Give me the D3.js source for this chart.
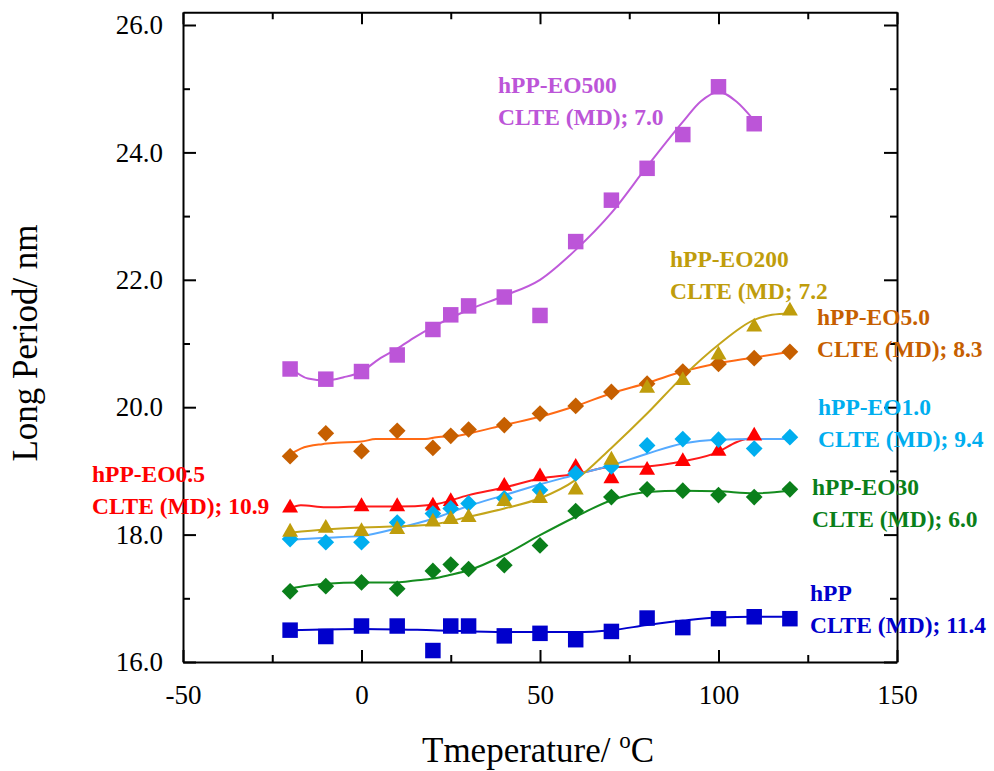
<!DOCTYPE html>
<html>
<head>
<meta charset="utf-8">
<script src="https://cdn.jsdelivr.net/npm/d3@7/dist/d3.min.js"></script>
<style>
  html, body { margin: 0; padding: 0; background: #fff; }
  svg { display: block; }
  text { font-family: "Liberation Serif", "Times New Roman", serif; }
</style>
</head>
<body>
<svg id="chart" width="994" height="771"></svg>
<script>
// ---------- data ----------
const xTicksMajor = [-50, 0, 50, 100, 150];
const xTicksMinor = [-25, 25, 75, 125];
const yTicksMajor = [16, 18, 20, 22, 24, 26];
const yTicksMinor = [17, 19, 21, 23, 25];

const tHPP = [-20, -10, 0, 10, 20, 25, 30, 40, 50, 60, 70, 80, 90, 100, 110, 120];
const vHPP = [16.50, 16.40, 16.565, 16.565, 16.18, 16.565, 16.565, 16.41, 16.45, 16.35, 16.48, 16.69, 16.54, 16.68, 16.71, 16.68];
const fitTHPP = [-20, 0, 20, 40, 60, 70, 80, 90, 100, 110, 120];
const fitVHPP = [16.50, 16.52, 16.50, 16.47, 16.47, 16.50, 16.58, 16.65, 16.70, 16.71, 16.71];

const tEO30 = [-20, -10, 0, 10, 20, 25, 30, 40, 50, 60, 70, 80, 90, 100, 110, 120];
const vEO30 = [17.11, 17.19, 17.25, 17.15, 17.43, 17.53, 17.46, 17.52, 17.83, 18.37, 18.59, 18.71, 18.69, 18.62, 18.59, 18.71];
const fitTEO30 = [-20, -15, -10, 0, 10, 15, 20, 25, 30, 40, 50, 60, 70, 80, 90, 100, 110, 120];
const fitVEO30 = [17.15, 17.20, 17.23, 17.25, 17.25, 17.28, 17.31, 17.37, 17.44, 17.68, 17.99, 18.28, 18.54, 18.67, 18.69, 18.68, 18.65, 18.69];

const tEO05 = [-20, 0, 10, 20, 25, 40, 50, 60, 70, 80, 90, 100, 110];
const vEO05 = [18.42, 18.44, 18.44, 18.45, 18.52, 18.76, 18.91, 19.06, 18.88, 19.01, 19.15, 19.31, 19.55];
const fitTEO05 = [-20, -17, -10, 0, 10, 20, 30, 40, 50, 60, 70, 80, 90, 100, 105, 110];
const fitVEO05 = [18.41, 18.46, 18.43, 18.44, 18.44, 18.47, 18.62, 18.74, 18.88, 18.95, 19.06, 19.07, 19.15, 19.30, 19.45, 19.53];

const tEO10 = [-20, -10, 0, 10, 20, 25, 30, 40, 50, 60, 70, 80, 90, 100, 110, 120];
const vEO10 = [17.93, 17.88, 17.88, 18.19, 18.33, 18.41, 18.49, 18.57, 18.70, 18.96, 19.07, 19.40, 19.50, 19.49, 19.35, 19.53];
const fitTEO10 = [-20, -10, 0, 10, 20, 30, 40, 50, 60, 70, 80, 90, 100, 110, 120];
const fitVEO10 = [17.92, 17.95, 17.98, 18.10, 18.25, 18.45, 18.62, 18.79, 18.94, 19.09, 19.27, 19.43, 19.49, 19.50, 19.50];

const tEO50 = [-20, -10, 0, 10, 20, 25, 30, 40, 50, 60, 70, 80, 90, 100, 110, 120];
const vEO50 = [19.23, 19.59, 19.31, 19.63, 19.36, 19.55, 19.65, 19.72, 19.90, 20.02, 20.24, 20.37, 20.56, 20.68, 20.77, 20.87];
const fitTEO50 = [-20, -17, -11, -7, 0, 4, 18, 21, 27, 31, 40, 50, 60, 70, 80, 90, 100, 110, 120];
const fitVEO50 = [19.26, 19.35, 19.42, 19.44, 19.46, 19.50, 19.50, 19.53, 19.55, 19.60, 19.72, 19.85, 20.02, 20.22, 20.38, 20.56, 20.69, 20.78, 20.87];

const tEO200 = [-20, -10, 0, 10, 20, 25, 30, 40, 50, 60, 70, 80, 90, 100, 110, 120];
const vEO200 = [18.04, 18.10, 18.05, 18.08, 18.20, 18.24, 18.27, 18.52, 18.57, 18.70, 19.17, 20.30, 20.42, 20.82, 21.26, 21.51];
const fitTEO200 = [-20, -10, 0, 10, 20, 30, 40, 50, 60, 70, 80, 90, 100, 110, 115, 120];
const fitVEO200 = [18.03, 18.08, 18.11, 18.13, 18.16, 18.28, 18.41, 18.57, 18.86, 19.36, 19.90, 20.48, 20.98, 21.37, 21.45, 21.47];

const tEO500 = [-20, -10, 0, 10, 20, 25, 30, 40, 50, 60, 70, 80, 90, 100, 110];
const vEO500 = [20.60, 20.44, 20.56, 20.82, 21.22, 21.45, 21.59, 21.73, 21.44, 22.60, 23.25, 23.75, 24.28, 25.03, 24.45];
const fitTEO500 = [-20, -15, -10, -5, 0, 5, 10, 15, 20, 30, 40, 50, 60, 70, 80, 90, 95, 100, 105, 110];
const fitVEO500 = [20.62, 20.45, 20.42, 20.47, 20.56, 20.76, 20.92, 21.10, 21.26, 21.53, 21.75, 22.00, 22.47, 23.05, 23.78, 24.48, 24.80, 24.95, 24.80, 24.50];

const seriesNames = ["hPP", "hPP-EO30", "hPP-EO0.5", "hPP-EO1.0", "hPP-EO5.0", "hPP-EO200", "hPP-EO500"];
const clteLabels = ["CLTE (MD); 11.4", "CLTE (MD); 6.0", "CLTE (MD); 10.9", "CLTE (MD); 9.4", "CLTE (MD); 8.3", "CLTE (MD; 7.2", "CLTE (MD); 7.0"];

// ---------- styling / layout ----------
const series = [
  { name: seriesNames[0], clte: clteLabels[0], t: tHPP, v: vHPP, ft: fitTHPP, fv: fitVHPP, color: "#0000CC", line: "#0000CC", shape: "square", lx: 810, ly: 601 },
  { name: seriesNames[1], clte: clteLabels[1], t: tEO30, v: vEO30, ft: fitTEO30, fv: fitVEO30, color: "#0A7F1A", line: "#148C1E", shape: "diamond", lx: 812, ly: 495 },
  { name: seriesNames[2], clte: clteLabels[2], t: tEO05, v: vEO05, ft: fitTEO05, fv: fitVEO05, color: "#FF0000", line: "#FF1A1A", shape: "triangle", lx: 92, ly: 482 },
  { name: seriesNames[3], clte: clteLabels[3], t: tEO10, v: vEO10, ft: fitTEO10, fv: fitVEO10, color: "#00AEEF", line: "#55AAFF", shape: "diamond", lx: 818, ly: 415 },
  { name: seriesNames[4], clte: clteLabels[4], t: tEO50, v: vEO50, ft: fitTEO50, fv: fitVEO50, color: "#C65F00", line: "#FF6A14", shape: "diamond", lx: 817, ly: 325 },
  { name: seriesNames[5], clte: clteLabels[5], t: tEO200, v: vEO200, ft: fitTEO200, fv: fitVEO200, color: "#BF9D0C", line: "#C4A51A", shape: "triangle", lx: 670, ly: 267 },
  { name: seriesNames[6], clte: clteLabels[6], t: tEO500, v: vEO500, ft: fitTEO500, fv: fitVEO500, color: "#BC55D8", line: "#BF5ADA", shape: "square", lx: 498, ly: 93 }
];

const svg = d3.select("#chart");
const x = d3.scaleLinear().domain([-50, 150]).range([183, 897]);
const y = d3.scaleLinear().domain([16, 26]).range([662, 25]);
const yTop = y(26.2);

// ---------- frame & axes ----------
const axisStroke = g => {
  g.select(".domain").attr("stroke", "#000").attr("stroke-width", 2);
  g.selectAll(".tick line").attr("stroke", "#000").attr("stroke-width", 2);
};
const minorStyle = g => { g.select(".domain").remove(); g.selectAll(".tick line").attr("stroke", "#000").attr("stroke-width", 2); };

// bottom
const gB = svg.append("g").attr("transform", `translate(0,${y(16)})`)
  .call(d3.axisBottom(x).tickValues(xTicksMajor).tickSizeInner(-12).tickSizeOuter(0).tickPadding(23).tickFormat(d => String(d)));
axisStroke(gB);
gB.selectAll("text").attr("font-size", 27).attr("fill", "#000").attr("font-family", "Liberation Serif");
svg.append("g").attr("transform", `translate(0,${y(16)})`)
  .call(d3.axisBottom(x).tickValues(xTicksMinor).tickSizeInner(-7).tickSizeOuter(0).tickFormat(""))
  .call(minorStyle);

// top
const gT = svg.append("g").attr("transform", `translate(0,${yTop})`)
  .call(d3.axisTop(x).tickValues(xTicksMajor).tickSizeInner(-12).tickSizeOuter(0).tickFormat(""));
axisStroke(gT);
svg.append("g").attr("transform", `translate(0,${yTop})`)
  .call(d3.axisTop(x).tickValues(xTicksMinor).tickSizeInner(-7).tickSizeOuter(0).tickFormat(""))
  .call(minorStyle);

// left
const yAx = d3.scaleLinear().domain([16, 26.2]).range([y(16), yTop]);
const gL = svg.append("g").attr("transform", `translate(${x(-50)},0)`)
  .call(d3.axisLeft(yAx).tickValues(yTicksMajor).tickSizeInner(-13).tickSizeOuter(0).tickPadding(20).tickFormat(d3.format(".1f")));
axisStroke(gL);
gL.selectAll("text").attr("font-size", 27).attr("fill", "#000").attr("font-family", "Liberation Serif");
svg.append("g").attr("transform", `translate(${x(-50)},0)`)
  .call(d3.axisLeft(yAx).tickValues(yTicksMinor).tickSizeInner(-7).tickSizeOuter(0).tickFormat(""))
  .call(minorStyle);

// right
const gR = svg.append("g").attr("transform", `translate(${x(150)},0)`)
  .call(d3.axisRight(yAx).tickValues(yTicksMajor).tickSizeInner(-13).tickSizeOuter(0).tickFormat(""));
axisStroke(gR);
svg.append("g").attr("transform", `translate(${x(150)},0)`)
  .call(d3.axisRight(yAx).tickValues(yTicksMinor).tickSizeInner(-7).tickSizeOuter(0).tickFormat(""))
  .call(minorStyle);

// ---------- axis titles ----------
const xt = svg.append("text").attr("x", 422).attr("y", 762).attr("font-size", 35).attr("fill", "#000");
xt.append("tspan").text("Tmeperature/ ");
xt.append("tspan").attr("font-size", 23).attr("dy", -14).text("o");
xt.append("tspan").attr("dy", 14).text("C");

svg.append("text")
  .attr("transform", `translate(37,${343}) rotate(-90)`)
  .attr("text-anchor", "middle").attr("font-size", 35).attr("fill", "#000")
  .text("Long Period/ nm");

// ---------- fit lines ----------
const line = d3.line().x(d => x(d[0])).y(d => y(d[1])).curve(d3.curveMonotoneX);
const gLines = svg.append("g");
series.forEach(s => {
  gLines.append("path")
    .datum(s.ft.map((t, i) => [t, s.fv[i]]))
    .attr("d", line)
    .attr("fill", "none")
    .attr("stroke", s.line)
    .attr("stroke-width", 2);
});

// ---------- markers ----------
const symSquare = d3.symbol().type(d3.symbolSquare).size(240);
const symDiamond = d3.symbol().type(d3.symbolSquare).size(140);
const symTriangle = d3.symbol().type(d3.symbolTriangle).size(110);
series.forEach(s => {
  const g = svg.append("g");
  s.t.forEach((t, i) => {
    let path, rot = 0;
    if (s.shape === "square") path = symSquare();
    else if (s.shape === "diamond") { path = symDiamond(); rot = 45; }
    else path = symTriangle();
    g.append("path")
      .attr("d", path)
      .attr("transform", `translate(${x(t)},${y(s.v[i])}) rotate(${rot})`)
      .attr("fill", s.color);
  });
});

// ---------- annotations ----------
series.forEach(s => {
  const tx = svg.append("text").attr("font-size", 23.5).attr("font-weight", "bold").attr("fill", s.color);
  tx.append("tspan").attr("x", s.lx).attr("y", s.ly).text(s.name);
  tx.append("tspan").attr("x", s.lx).attr("y", s.ly + 32).text(s.clte);
});
</script>
</body>
</html>
